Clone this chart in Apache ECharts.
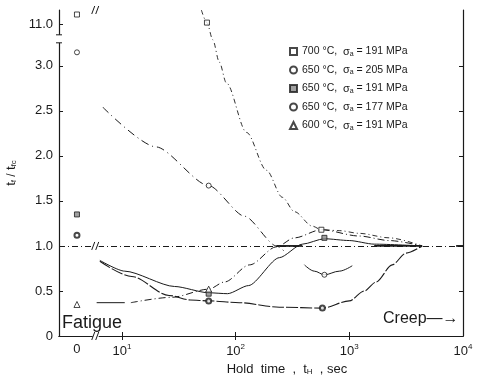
<!DOCTYPE html>
<html><head><meta charset="utf-8">
<script src="https://cdn.jsdelivr.net/npm/echarts@6/dist/echarts.min.js"></script>
<style>html,body{margin:0;padding:0;background:#fff}#c{width:479px;height:378px}</style>
</head><body><div id="c"></div>
<script>
// ---------------- data ----------------
// hold time t_H in seconds (0 = pure fatigue), value = t_f / t_fc
const tempsC   = [700, 650, 650, 650, 600];
const stresses = [191, 205, 191, 177, 191];

// measured points for each test condition
const pts700_191 = [[0, 11.22], [56, 11.04], [568, 1.18]];
const pts650_205 = [[0, 3.15], [58, 1.67], [604, 0.68]];
const pts650_191 = [[0, 1.35], [58, 0.47], [604, 1.09]];
const pts650_177 = [[0, 1.12], [58, 0.39], [580, 0.31]];
const pts600_191 = [[0, 0.35], [58, 0.52]];

// drawn trend curves
const curve700_191 = [[50, 11.32], [56, 11.04], [63, 6.5], [72, 3.04], [83, 2.81], [125, 2.26], [187, 1.84], [258, 1.54], [330, 1.38], [473, 1.22], [568, 1.18], [815, 1.17], [1224, 1.14], [2240, 1.09], [4370, 1.0]];
const curve650_205 = [[6.8, 2.54], [19.9, 2.10], [58, 1.67], [120, 1.33], [229, 1.0], [280, 0.92]];
const curve650_205b = [[403, 0.79], [493, 0.72], [604, 0.68], [817, 0.72], [1062, 0.78]];
const curve650_191 = [[6.4, 0.84], [10.6, 0.72], [29, 0.55], [58, 0.48], [85, 0.47], [130, 0.56], [243, 0.87], [387, 1.02], [604, 1.08], [1000, 1.06], [1656, 1.02], [4370, 1.0]];
const curve650_177 = [[6.4, 0.83], [12.2, 0.66], [26, 0.45], [40, 0.40], [58, 0.39], [108, 0.37], [243, 0.32], [580, 0.31], [1000, 0.39], [1355, 0.50], [1725, 0.60], [2381, 0.79], [3162, 0.92], [4370, 1.0]];
const curve600_191a = [[6.0, 0.37], [10.6, 0.37]];
const curve600_191 = [[12, 0.37], [27.5, 0.43], [58, 0.52], [80, 0.60], [133, 0.79], [229, 0.99], [330, 1.09], [568, 1.18], [1224, 1.11], [2240, 1.06], [4370, 1.0]];
const unitySegments = [[[229, 1.0], [387, 1.0]], [[1656, 1.0], [4370, 1.0]], [[8700, 1.0], [10000, 1.0]]];

// axis ticks
const xTickTimes  = [0, 10, 100, 1000, 10000];
const xTickLabels = ['0', '10^1', '10^2', '10^3', '10^4'];
const yTickValues = [0, 0.5, 1.0, 1.5, 2.0, 2.5, 3.0, 11.0];
const yTickLabels = ['0', '0.5', '1.0', '1.5', '2.0', '2.5', '3.0', '11.0'];

// ---------------- scale helpers (broken axes) ----------------
const X_ZERO = 0.605;             // log position where t_H = 0 is drawn
const X_MIN = 0.447, X_MAX = 4.0; // log10 range of the frame
const X_BREAK = 0.77;
const Y_MAX = 3.62, Y_BREAK = 3.3;
function xv(t) { return t === 0 ? X_ZERO : Math.log10(t); }
function yv(y) {
  if (y <= 3.2) return y;
  if (y <= 10.9) return 3.2 + (y - 3.2) / 7.7 * 0.21;
  return 3.41 + (y - 10.9) * 0.5;
}
const tr = arr => arr.map(p => [xv(p[0]), yv(p[1])]);

const names = tempsC.map((T, i) => T + ' °C,  σa = ' + stresses[i] + ' MPa');
const FONT = 'Liberation Sans';
const INK = '#1a1a1a';

const markerDefs = [
  { data: pts700_191, symbol: 'rect', fill: '#fff', bw: 1 },
  { data: pts650_205, symbol: 'circle', fill: '#fff', bw: 1 },
  { data: pts650_191, symbol: 'rect', fill: '#888', bw: 1 },
  { data: pts650_177, symbol: 'circle', fill: '#fff', bw: 2 },
  { data: pts600_191, symbol: 'triangle', fill: '#fff', bw: 1 }
];

const series = [];
function curve(data, dash, width, sm) {
  series.push({ type: 'line', data: tr(data), smooth: sm == null ? 0.35 : sm, smoothMonotone: 'x', showSymbol: false, silent: true,
    lineStyle: { color: INK, width: width || 1, type: dash || 'solid' }, z: 2 });
}
curve(curve700_191, [5, 3, 1, 3], 0.9, 0.3);
curve(curve650_205, [8, 4, 1, 4], 1, 0.25);
curve(curve650_205b, 'solid', 1);
curve(curve650_191, 'solid', 1, 0.25);
curve(curve650_177, [12, 2], 1.1, 0.3);
curve(curve600_191a, 'solid', 1, 0);
curve(curve600_191, [7, 3, 1, 3], 1, 0.3);
unitySegments.forEach(s => curve(s, 'solid', 1.8, 0));

// unity reference line
series.push({ type: 'line', data: [], silent: true,
  markLine: { silent: true, symbol: 'none', label: { show: false },
    lineStyle: { color: INK, width: 1, type: [6, 3, 1, 3] }, data: [{ yAxis: 1.0 }] } });

markerDefs.forEach((m, i) => {
  series.push({ name: names[i], type: 'scatter', data: tr(m.data), symbol: m.symbol,
    symbolSize: m.symbol === 'triangle' ? 6 : 5, z: 5,
    itemStyle: { color: m.fill, borderColor: INK, borderWidth: m.bw } });
});

const chart = echarts.init(document.getElementById('c'));
const supRich = { b: { fontSize: 13, fontFamily: FONT, color: INK }, s: { fontSize: 8, fontFamily: FONT, color: INK, padding: [0, 0, 9, 0] } };

chart.setOption({
  animation: false,
  backgroundColor: '#fff',
  grid: { left: 59, right: 16, top: 10, bottom: 42, containLabel: false, outerBoundsMode: 'none' },
  legend: {
    data: names, orient: 'vertical', left: 284, top: 41, itemWidth: 7, itemHeight: 7, itemGap: 7,
    selectedMode: false,
    formatter: n => n.replace('σa', '{g|σ}{sub|a}'),
    textStyle: { fontFamily: FONT, fontSize: 10.5, color: INK,
      rich: { g: { fontSize: 11, fontFamily: FONT, color: INK }, sub: { fontSize: 7, fontFamily: FONT, color: INK, padding: [5, 0, 0, 0] } } }
  },
  xAxis: [{
    type: 'value', min: X_MIN, max: X_MAX, position: 'bottom',
    axisLine: { lineStyle: { color: INK, width: 1.2 } },
    axisTick: { inside: true, length: 4, customValues: [1, 2, 3], lineStyle: { color: INK } },
    splitLine: { show: false },
    axisLabel: { customValues: xTickTimes.map(xv), margin: 7, color: INK, fontFamily: FONT, fontSize: 13,
      formatter: v => {
        const i = xTickTimes.findIndex(t => Math.abs(xv(t) - v) < 1e-6);
        const s = i < 0 ? '' : xTickLabels[i];
        if (s.indexOf('^') < 0) return '{b|' + s + '}';
        const p = s.split('^');
        return '{b|' + p[0] + '}{s|' + p[1] + '}';
      }, rich: supRich },
    name: 'Hold  time  ,  {i|t}{sub|H}  , sec', nameLocation: 'middle', nameGap: 23,
    nameTextStyle: { fontFamily: FONT, fontSize: 13, color: INK, padding: [0, 0, 0, 52],
      rich: { i: { fontSize: 13, fontFamily: FONT, color: INK }, sub: { fontSize: 8, fontFamily: FONT, color: INK, padding: [5, 0, 0, 0] } } }
  }, {
    type: 'value', min: X_MIN, max: X_MAX, position: 'top',
    axisLine: { lineStyle: { color: INK, width: 1.2 } },
    axisTick: { inside: true, length: 4, customValues: [1, 2, 3], lineStyle: { color: INK } },
    axisLabel: { show: false }, splitLine: { show: false }
  }],
  yAxis: [{
    type: 'value', min: 0, max: Y_MAX, position: 'left',
    axisLine: { show: true, lineStyle: { color: INK, width: 1.2 } },
    axisTick: { show: true, inside: true, length: 4, customValues: yTickValues.map(yv), lineStyle: { color: INK } },
    splitLine: { show: false },
    axisLabel: { customValues: yTickValues.map(yv), margin: 6, color: INK, fontFamily: FONT, fontSize: 13,
      formatter: v => { const i = yTickValues.findIndex(t => Math.abs(yv(t) - v) < 1e-6); return i < 0 ? '' : yTickLabels[i]; } },
    name: '{i|t}{sub|f} / {i|t}{sub|fc}', nameLocation: 'middle', nameGap: 38, nameRotate: 90,
    nameTextStyle: { fontFamily: FONT, fontSize: 12, color: INK,
      rich: { i: { fontSize: 13, fontFamily: FONT, color: INK }, sub: { fontSize: 8, fontFamily: FONT, color: INK, padding: [5, 0, 0, 0] } } }
  }, {
    type: 'value', min: 0, max: Y_MAX, position: 'right',
    axisLine: { show: true, lineStyle: { color: INK, width: 1.2 } },
    axisTick: { show: true, inside: true, length: 4, customValues: [0.5, 1.0, 1.5, 2.0, 2.5, 3.0], lineStyle: { color: INK } },
    axisLabel: { show: false }, splitLine: { show: false }
  }],
  series: series
});

// break marks and annotations, positioned through the axes
const P = (x, y) => chart.convertToPixel({ xAxisIndex: 0, yAxisIndex: 0 }, [x, y]);
const g = [];
function xBreak(p) {
  g.push({ type: 'rect', shape: { x: p[0] - 3, y: p[1] - 2, width: 6, height: 4 }, style: { fill: '#fff' }, z: 50 });
  [-2.5, 1.5].forEach(d => g.push({ type: 'line', shape: { x1: p[0] + d - 1.5, y1: p[1] + 4, x2: p[0] + d + 1.5, y2: p[1] - 4 }, style: { stroke: INK, lineWidth: 1 }, z: 51 }));
}
xBreak(P(X_BREAK, 0));
xBreak(P(X_BREAK, Y_MAX));
xBreak(P(X_BREAK, 1.0));
const yb = P(X_MIN, Y_BREAK);
g.push({ type: 'rect', shape: { x: yb[0] - 2, y: yb[1] - 4, width: 4, height: 8 }, style: { fill: '#fff' }, z: 50 });
[-4, 4].forEach(d => g.push({ type: 'line', shape: { x1: yb[0] - 3, y1: yb[1] + d, x2: yb[0] + 3, y2: yb[1] + d }, style: { stroke: INK, lineWidth: 1 }, z: 51 }));
const fz = P(X_MIN, 0);
g.push({ type: 'text', left: fz[0] + 3, top: fz[1] - 22, style: { text: 'Fatigue', font: '18px "Liberation Sans"', fill: INK }, z: 20 });
const cp = P(X_MAX, 0);
g.push({ type: 'text', left: cp[0] - 80, top: cp[1] - 25, style: { text: 'Creep—→', font: '16px "Liberation Sans"', fill: INK }, z: 20 });
chart.setOption({ graphic: g });
</script></body></html>
